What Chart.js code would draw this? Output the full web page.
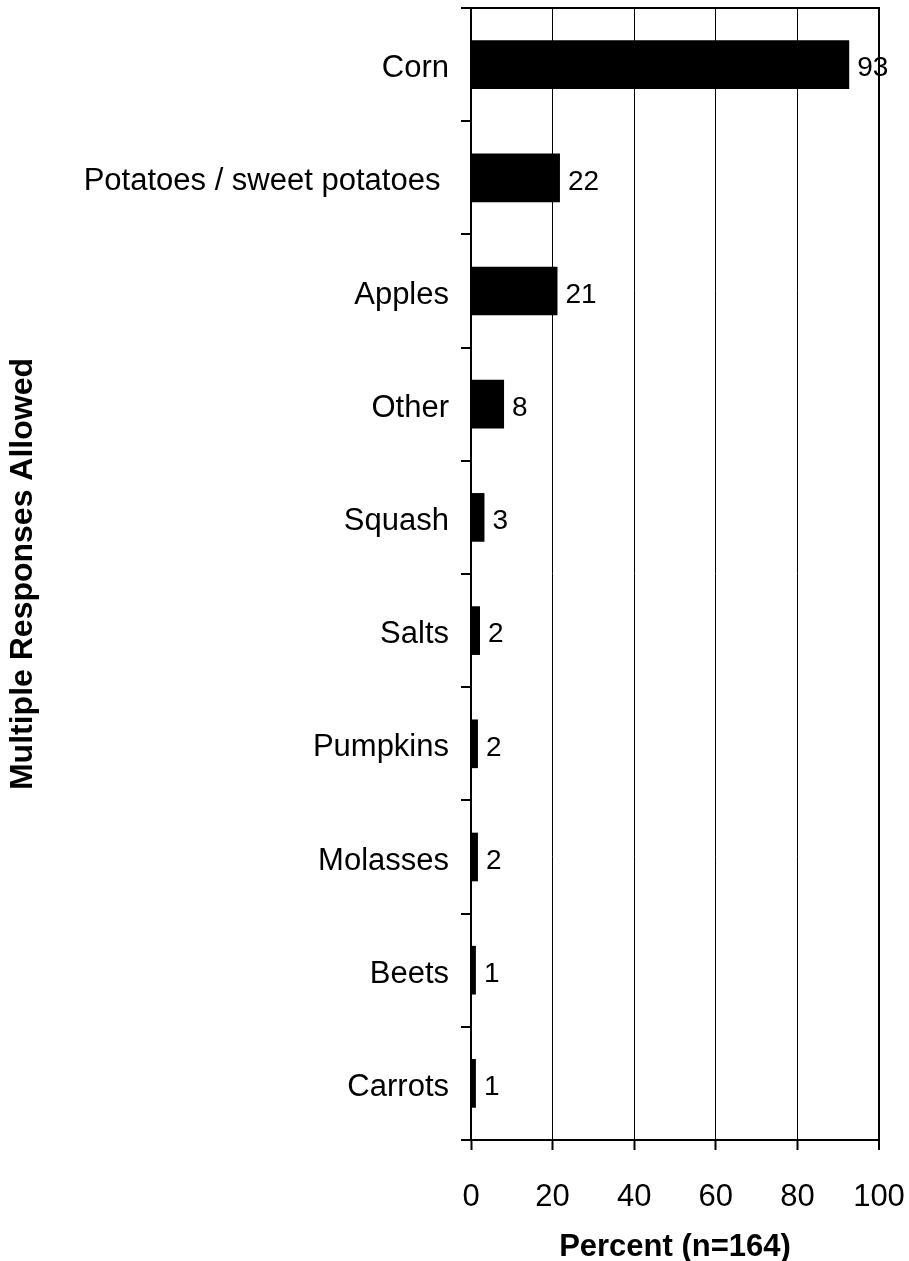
<!DOCTYPE html>
<html>
<head>
<meta charset="utf-8">
<script src="https://cdn.jsdelivr.net/npm/chart.js@4/dist/chart.umd.min.js"></script>
<style>
  html, body { margin: 0; padding: 0; background: #fff; }
  #c { display: block; }
</style>
</head>
<body>
<canvas id="c" width="909" height="1261"></canvas>
<script>
const categories = ["Corn", "Potatoes / sweet potatoes ", "Apples", "Other", "Squash", "Salts", "Pumpkins", "Molasses", "Beets", "Carrots"];
const percentValues = [92.7, 21.8, 21.2, 8.1, 3.3, 2.2, 1.7, 1.7, 1.2, 1.2];
const valueLabels = ["93", "22", "21", "8", "3", "2", "2", "2", "1", "1"];
const xTicks = [0, 20, 40, 60, 80, 100];

const FONT = "'Liberation Sans', Arial, sans-serif";

const labelPlugin = {
  id: 'valueLabels',
  afterDatasetsDraw(chart) {
    const ctx = chart.ctx;
    const meta = chart.getDatasetMeta(0);
    ctx.save();
    ctx.fillStyle = '#000';
    ctx.font = '28px ' + FONT;
    ctx.textAlign = 'left';
    ctx.textBaseline = 'middle';
    meta.data.forEach((bar, i) => {
      ctx.fillText(valueLabels[i], bar.x + 8, bar.y + 4);
    });
    ctx.restore();
  }
};

const frameTopPlugin = {
  id: 'frameTop',
  afterDraw(chart) {
    const a = chart.chartArea;
    const ctx = chart.ctx;
    ctx.save();
    ctx.strokeStyle = '#000';
    ctx.lineWidth = 2;
    ctx.beginPath();
    ctx.moveTo(a.left, a.top);
    ctx.lineTo(a.right + 1, a.top);
    ctx.stroke();
    ctx.restore();
  }
};

new Chart(document.getElementById('c'), {
  type: 'bar',
  data: {
    labels: categories,
    datasets: [{
      data: percentValues,
      backgroundColor: '#000',
      borderWidth: 0,
      categoryPercentage: 1,
      barPercentage: 0.43
    }]
  },
  options: {
    indexAxis: 'y',
    responsive: false,
    devicePixelRatio: 1,
    animation: false,
    layout: { padding: { top: 8, right: 30, bottom: 0, left: 0 } },
    plugins: { legend: { display: false }, tooltip: { enabled: false } },
    scales: {
      x: {
        min: 0,
        max: 100,
        afterBuildTicks(scale) { scale.ticks = xTicks.map(v => ({ value: v })); },
        afterFit(scale) {
          scale.height = 121;
          scale.paddingLeft = 0; scale.paddingRight = 0;
          scale.paddingTop = 0; scale.paddingBottom = 0;
        },
        grid: {
          color: '#000',
          lineWidth: (c) => (c.tick && c.tick.value === 100 ? 2 : 1),
          tickLength: 10,
          tickWidth: 2,
          tickColor: '#000'
        },
        border: { display: true, color: '#000', width: 2 },
        ticks: {
          color: '#000',
          font: { family: FONT, size: 31 },
          padding: 29,
          maxRotation: 0
        },
        title: {
          display: true,
          text: 'Percent (n=164)',
          color: '#000',
          font: { family: FONT, size: 31, weight: 'bold', lineHeight: 1 },
          padding: { top: 0, bottom: -2 }
        }
      },
      y: {
        afterFit(scale) {
          scale.width = 471;
          scale.paddingLeft = 0; scale.paddingRight = 0;
          scale.paddingTop = 0; scale.paddingBottom = 0;
        },
        grid: {
          offset: true,
          drawOnChartArea: false,
          drawTicks: true,
          tickLength: 10,
          color: '#000',
          lineWidth: 2
        },
        border: { display: true, color: '#000', width: 2 },
        ticks: {
          color: '#000',
          font: { family: FONT, size: 31 },
          padding: 12,
          labelOffset: 4
        },
        title: {
          display: true,
          text: 'Multiple Responses Allowed',
          color: '#000',
          font: { family: FONT, size: 32, weight: 'bold', lineHeight: 1 },
          padding: { top: 7, bottom: 0 }
        }
      }
    }
  },
  plugins: [labelPlugin, frameTopPlugin]
});
</script>
</body>
</html>
